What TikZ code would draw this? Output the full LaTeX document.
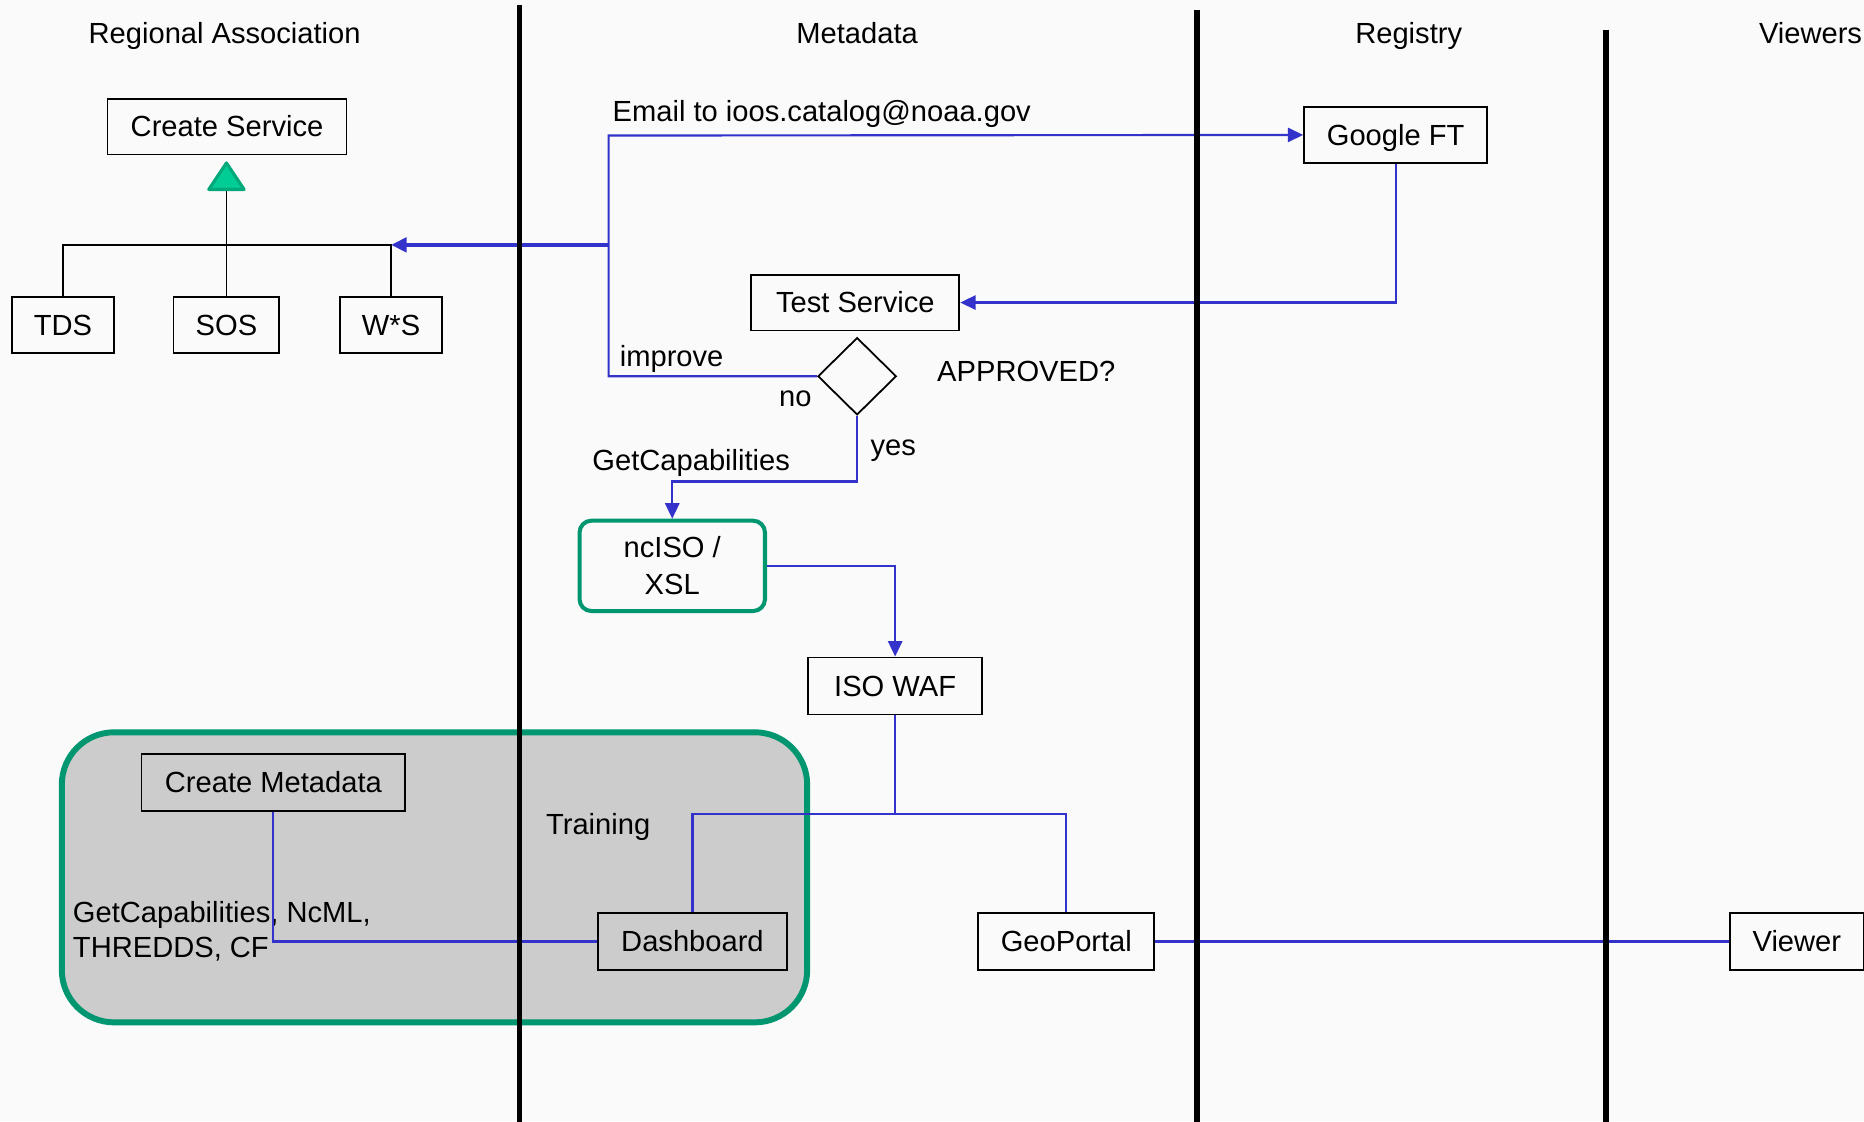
\documentclass[tikz,border=0pt]{standalone}
\usepackage{fontspec}
\setmainfont{Liberation Sans}
\usepackage{tikz}
\usetikzlibrary{arrows.meta,shapes.geometric}
\definecolor{flowblue}{RGB}{51,51,204}
\definecolor{trainline}{RGB}{0,150,112}
\definecolor{trainfill}{RGB}{204,204,204}
\definecolor{trifill}{RGB}{0,204,150}
\definecolor{triline}{RGB}{0,168,122}

\begin{document}
\begin{tikzpicture}[x=0.5pt, y=-0.5pt,
    every node/.style={font=\fontsize{12.25}{14.5}\selectfont},
    box/.style={draw, line width=0.75pt, minimum height=23.5pt, inner sep=0pt,
      text height=10pt, text depth=1.5pt},
    lbl/.style={inner sep=0pt, anchor=base west},
    flow/.style={flowblue, line width=0.9pt, -{Triangle[length=6.5pt,width=6pt]}},
    link/.style={flowblue, line width=0.9pt},
    lane/.style={line width=2.5pt}]
    \useasboundingbox (0,0) rectangle (1568,943);
    \fill[white!98!black] (0,0) rectangle (1568,943);

    % training group
    \draw[trainline, fill=trainfill, line width=2.5pt, rounded corners=22pt]
      (52,616) rectangle (679,860);

    % lane titles
    \node[anchor=base] (hra) at (189,37) {Regional Association};
    \node[anchor=base] (hmeta) at (721,37) {Metadata};
    \node[anchor=base] (hreg) at (1185,37) {Registry};
    \node[anchor=base] (hview) at (1523,37) {Viewers};

    % services
    \node[box, minimum width=100.5pt] (cs) at (191,106.5) {Create Service};
    \node[box, minimum width=43pt] (tds) at (53,273.5) {TDS};
    \node[box, minimum width=44.5pt] (sos) at (190.5,273.5) {SOS};
    \node[box, minimum width=43pt] (ws) at (329,273.5) {W*S};

    % metadata and registry
    \node[box, minimum width=77pt] (gft) at (1174,113.5) {Google FT};
    \node[box, minimum width=87.5pt] (ts) at (719.5,254.5) {Test Service};
    \node[draw, diamond, line width=0.75pt, minimum width=33pt, minimum height=32.5pt,
      inner sep=0pt] (dia) at (721,316.5) {};
    \node[draw=trainline, line width=1.7pt, rounded corners=5pt, minimum width=78pt,
      minimum height=38pt, inner sep=0pt, align=center,
      font=\fontsize{12.25}{15.5}\selectfont] (nciso) at (565.5,476) {ncISO /\\XSL};
    \node[box, minimum width=73pt, minimum height=24pt] (isowaf) at (753,577) {ISO WAF};
    \node[box, minimum width=111pt, minimum height=24pt] (cmeta) at (230,658) {Create Metadata};
    \node[box, minimum width=79.5pt, minimum height=24pt] (dash) at (582.5,792) {Dashboard};
    \node[box, minimum width=74pt, minimum height=24pt] (geo) at (897,792) {GeoPortal};
    \node[box, minimum width=56pt, minimum height=24pt] (viewer) at (1511.5,792) {Viewer};

    % labels
    \node[lbl] (lemail) at (515,102) {Email to ioos.catalog@noaa.gov};
    \node[lbl] (limprove) at (521,308) {improve};
    \node[lbl] (lno) at (655,342) {no};
    \node[lbl] (lapp) at (788,321) {APPROVED?};
    \node[lbl] (lyes) at (732,383) {yes};
    \node[lbl] (lgetcap) at (498,396) {GetCapabilities};
    \node[lbl] (ltrain) at (459,702) {Training};
    \node[inner sep=0pt, anchor=north west, align=left] (lformats) at (61,758)
      {GetCapabilities, NcML,\\THREDDS, CF};

    \coordinate (joint) at (190.5,206);
    \coordinate (split) at (512,206);
    \coordinate (email) at (512,114);
    \coordinate (yesbend) at (565.5,405);
    \coordinate (hub) at (753,685);

    % service tree
    \draw[line width=0.75pt] (tds.north) |- (ws.north |- joint) -- (ws.north);
    \draw[line width=0.75pt, shorten >=2.5pt,
      -{Triangle[length=13pt,width=17pt,fill=trifill,color=triline,line width=1.3pt,round]}]
      (sos.north) -- (sos.north |- cs.south);

    % flows
    \draw[flowblue, line width=1.8pt, -{Triangle[length=6.5pt,width=6pt]}] (split) -- (ws.north |- joint);
    \draw[flow] (dia.west) -| (email) -- (gft.west);
    \draw[flow] (gft.south) |- (ts.east);
    \draw[flow] (dia.south) |- (yesbend) -- (nciso.north);
    \draw[flow] (nciso.east) -| (isowaf.north);
    \draw[link] (isowaf.south) -- (hub);
    \draw[link] (dash.north) |- (geo.north |- hub) -- (geo.north);
    \draw[link] (cmeta.south) |- (dash.west);
    \draw[link] (geo.east) -- (viewer.west);

    % lanes
    \draw[lane] (437,4) -- (437,945);
    \draw[lane] (1007,8) -- (1007,945);
    \draw[lane] (1351,25) -- (1351,945);
\end{tikzpicture}
\end{document}
